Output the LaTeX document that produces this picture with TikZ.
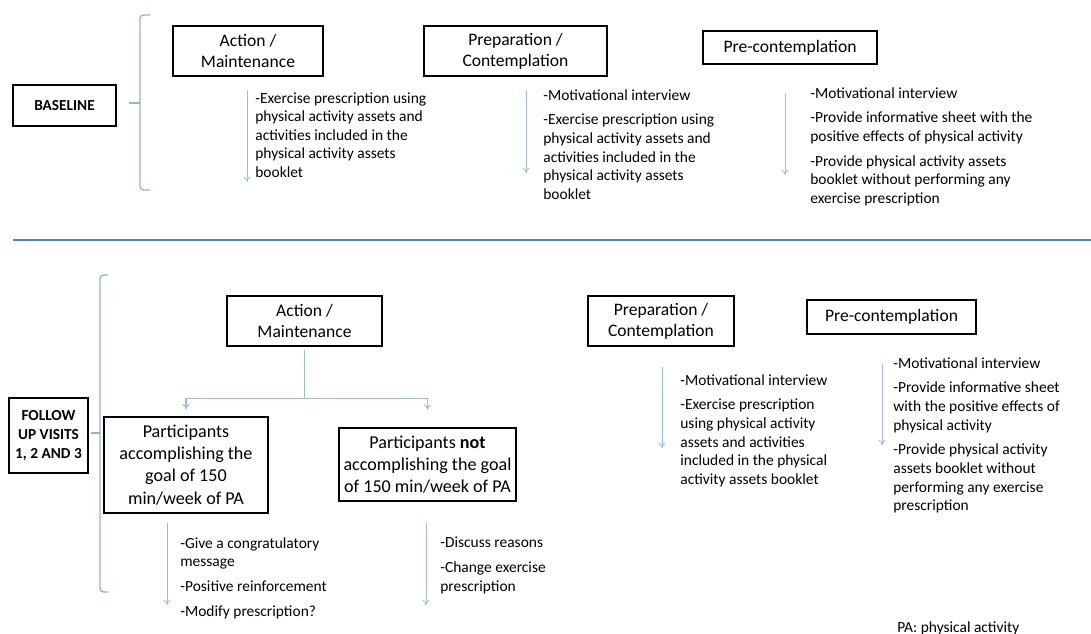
\documentclass[tikz,border=0pt]{standalone}
\usepackage{fontspec}
\setmainfont{Carlito}
\usetikzlibrary{arrows.meta}
\definecolor{bracecol}{RGB}{150,175,210}
\definecolor{pale}{RGB}{160,186,224}
\definecolor{sepcol}{RGB}{79,129,189}
\begin{document}
\begin{tikzpicture}[x=0.02cm,y=-0.02cm,>={To[length=3pt,width=4pt]},
  stage/.style={draw,line width=0.9pt,align=center,inner sep=0pt,font=\fontsize{10}{12}\selectfont},
  phase/.style={draw,line width=0.9pt,align=center,inner sep=0pt,font=\fontsize{8.7}{10.7}\selectfont\bfseries},
  note/.style={anchor=north west,inner sep=0pt,align=left,font=\fontsize{8.8}{10.6}\selectfont},
  side/.style={->,pale,line width=0.5pt},
  brace/.style={bracecol,line width=0.8pt,rounded corners=2pt},
  tree/.style={pale,line width=0.6pt}]
\useasboundingbox (0,0) rectangle (1091,634);
% baseline
\node[phase,minimum width=2.06cm,minimum height=0.82cm] (base) at (64.5,105.5) {BASELINE};
\draw[brace] (150,15) -- (140,15) -- (140,190) -- (150,190);
\draw[brace] (140,103) -- (129,103);
\node[stage,minimum width=3cm,minimum height=1cm] (bam) at (248,51) {Action /\\Maintenance};
\node[stage,minimum width=3.66cm,minimum height=1cm] (bprep) at (515.5,51) {Preparation /\\Contemplation};
\node[stage,minimum width=3.48cm,minimum height=0.66cm] (bpre) at (790,47.5) {Pre-contemplation};
\node[note] (tbam) at (255,92) {-Exercise prescription using\\physical activity assets and\\activities included in the\\physical activity assets\\booklet};
\node[note] (tbprep) at (543,89) {-Motivational interview\\[3.5pt]-Exercise prescription using\\physical activity assets and\\activities included in the\\physical activity assets\\booklet};
\node[note] (tbpre) at (810,87) {-Motivational interview\\[3.5pt]-Provide informative sheet with the\\positive effects of physical activity\\[3.5pt]-Provide physical activity assets\\booklet without performing any\\exercise prescription};
\draw[side] (tbam.north west) ++(-8,-2) -- ++(0,92);
\draw[side] (tbprep.north west) ++(-17,1) -- ++(0,83);
\draw[side] (tbpre.north west) ++(-25,6) -- ++(0,82);
\draw[sepcol,line width=1.3pt] (13,240) -- (1091,240);
% follow up visits
\node[phase,minimum width=1.58cm,minimum height=1.5cm] (fup) at (48.5,435.5) {FOLLOW\\UP VISITS\\1, 2 AND 3};
\draw[brace] (108,275) -- (100,275) -- (100,592) -- (108,592);
\draw[brace] (100,433) -- (91,433);
\node[stage,minimum width=3.1cm,minimum height=1cm] (fam) at (304.5,321) {Action /\\Maintenance};
\node[stage,minimum width=2.92cm,minimum height=1cm] (fprep) at (661,321) {Preparation /\\Contemplation};
\node[stage,minimum width=3.38cm,minimum height=0.68cm] (fpre) at (891.5,317) {Pre-contemplation};
\node[stage,minimum width=3.28cm,minimum height=1.92cm,font=\fontsize{10.3}{12.6}\selectfont] (pyes) at (186,465) {Participants\\accomplishing the\\goal of 150\\min/week of PA};
\node[stage,minimum width=3.54cm,minimum height=1.46cm,font=\fontsize{10.3}{12.6}\selectfont] (pno) at (427.5,464.5) {Participants \textbf{not}\\accomplishing the goal\\of 150 min/week of PA};
\draw[tree,shorten <=2pt] (fam.south) -- ++(0,52) coordinate (split);
\draw[tree,->,shorten >=4pt] (split) -| (pyes.north);
\draw[tree,->,shorten >=10pt] (split) -| (pno.north);
\node[note] (tpyes) at (180,537) {-Give a congratulatory\\message\\[3.5pt]-Positive reinforcement\\[3.5pt]-Modify prescription?};
\node[note] (tpno) at (440,537) {-Discuss reasons\\[3.5pt]-Change exercise\\prescription};
\node[note] (tfprep) at (680,374) {-Motivational interview\\[3.5pt]-Exercise prescription\\using physical activity\\assets and activities\\included in the physical\\activity assets booklet};
\node[note] (tfpre) at (893,357) {-Motivational interview\\[3.5pt]-Provide informative sheet\\with the positive effects of\\physical activity\\[3.5pt]-Provide physical activity\\assets booklet without\\performing any exercise\\prescription};
\draw[side] (tpyes.north west) ++(-13,-14) -- ++(0,82);
\draw[side] (tpno.north west) ++(-14,-14) -- ++(0,82);
\draw[side] (tfprep.north west) ++(-18,-7) -- ++(0,81);
\draw[side] (tfpre.north west) ++(-11,7) -- ++(0,81);
\node[note] (pa) at (897,621) {PA: physical activity};
\end{tikzpicture}
\end{document}
